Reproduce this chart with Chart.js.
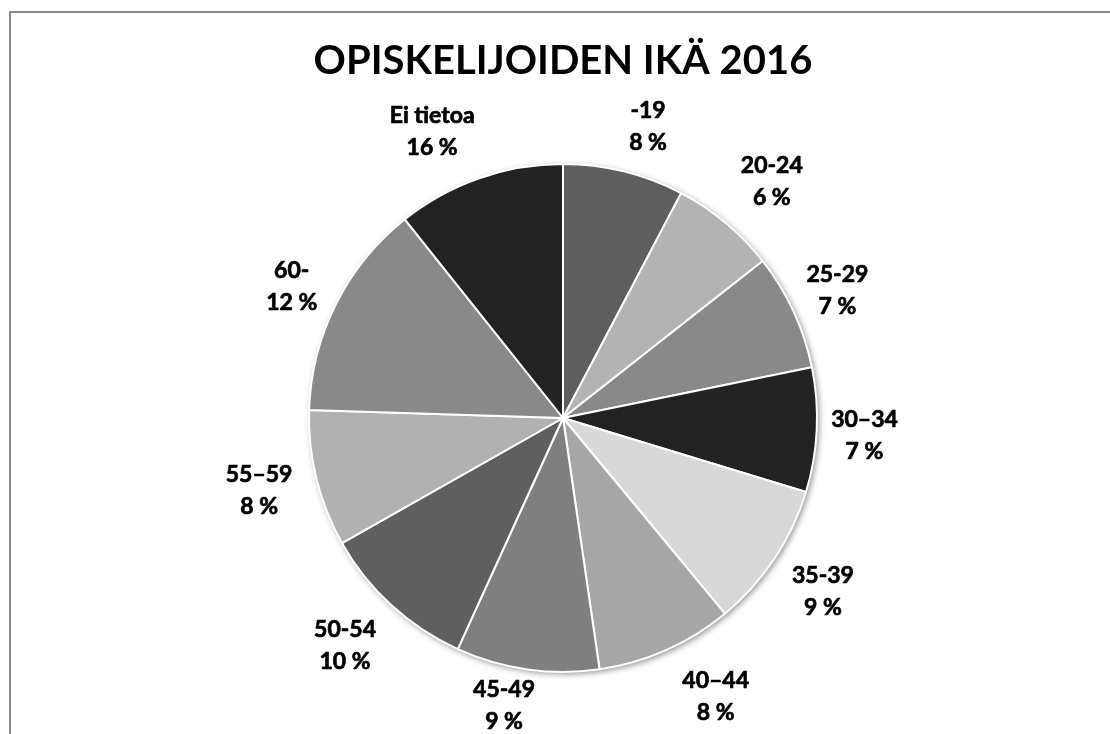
<!DOCTYPE html>
<html>
<head>
<meta charset="utf-8">
<script src="https://cdn.jsdelivr.net/npm/chart.js@4/dist/chart.umd.min.js"></script>
<style>
  html, body { margin: 0; padding: 0; background: #fff; overflow: hidden; }
  #wrap { position: relative; width: 1110px; height: 734px; }
  #frame { position: absolute; left: 9px; top: 11px; width: 1300px; height: 900px; border: 2px solid #898989; box-sizing: border-box; pointer-events: none; }
  canvas { position: absolute; left: 0; top: 0; }
</style>
</head>
<body>
<div id="wrap">
  <canvas id="c" width="1110" height="734"></canvas>
  <div id="frame"></div>
</div>
<script>
// Data
const chartTitle = 'OPISKELIJOIDEN IKÄ 2016';
const categories = ['-19', '20-24', '25-29', '30–34', '35-39', '40–44', '45-49', '50-54', '55–59', '60-', 'Ei tietoa'];
// slice sizes as drawn (share of the full circle, %)
const sliceShares = [7.7, 6.7, 7.4, 7.9, 9.3, 8.7, 9.1, 10.0, 8.7, 13.8, 10.7];
// percentages printed on the data labels
const labelPercents = ['8 %', '6 %', '7 %', '7 %', '9 %', '8 %', '9 %', '10 %', '8 %', '12 %', '16 %'];
const sliceColors = ['#5e5e5e', '#b3b3b3', '#898989', '#222222', '#d8d8d8', '#a6a6a6', '#7f7f7f', '#5f5f5f', '#b1b1b1', '#898989', '#222222'];

const FONT = 'Lato, "Open Sans", "Liberation Sans", sans-serif';
// label placement tweaks: angular nudge (deg) and radial nudge (px) from the slice's mid-angle anchor
const labelNudgeDeg = [2.4, 1.7, 0, 0.7, 0, -4.8, 3.5, 1.3, 0.5, -0.8, -5.3];
const labelNudgeRad = [0, 0, -6, 6, 0, 2, -13, 0, 8, 0, -5];

const shadowPlugin = {
  id: 'pieShadow',
  beforeDatasetsDraw(chart) {
    const arc = chart.getDatasetMeta(0).data[0];
    if (!arc) return;
    const ctx = chart.ctx;
    ctx.save();
    ctx.shadowColor = 'rgba(0,0,0,0.45)';
    ctx.shadowBlur = 6;
    ctx.shadowOffsetX = 2;
    ctx.shadowOffsetY = 2;
    ctx.fillStyle = '#ffffff';
    ctx.beginPath();
    ctx.arc(arc.x, arc.y, arc.outerRadius, 0, Math.PI * 2);
    ctx.fill();
    ctx.restore();
  }
};

const labelPlugin = {
  id: 'outsideLabels',
  afterDatasetsDraw(chart) {
    const ctx = chart.ctx;
    const meta = chart.getDatasetMeta(0);
    ctx.save();
    ctx.font = 'bold 23px ' + FONT;
    ctx.fillStyle = '#000000';
    ctx.strokeStyle = '#000000';
    ctx.lineWidth = 0.7;
    ctx.lineJoin = 'round';
    ctx.textAlign = 'center';
    ctx.textBaseline = 'middle';
    meta.data.forEach((arc, i) => {
      const mid = (arc.startAngle + arc.endAngle) / 2 + labelNudgeDeg[i] * Math.PI / 180;
      const ux = Math.cos(mid), uy = Math.sin(mid);
      const l1 = chart.data.labels[i];
      const l2 = labelPercents[i];
      const hw = Math.max(ctx.measureText(l1).width, ctx.measureText(l2).width) / 2 * 0.87;
      const hh = 32;
      const support = Math.abs(ux) * hw + Math.abs(uy) * hh;
      const d = arc.outerRadius - 12 + 1.75 * support + labelNudgeRad[i];
      const cx = arc.x + ux * d;
      const cy = arc.y + uy * d;
      [[l1, cy - 16], [l2, cy + 16]].forEach(([t, y]) => {
        ctx.strokeText(t, cx, y);
        ctx.fillText(t, cx, y);
      });
    });
    ctx.restore();
  }
};

new Chart(document.getElementById('c'), {
  type: 'pie',
  data: {
    labels: categories,
    datasets: [{
      data: sliceShares,
      backgroundColor: sliceColors,
      borderColor: '#ffffff',
      borderWidth: 2
    }]
  },
  options: {
    responsive: false,
    animation: false,
    layout: { padding: { top: 0, bottom: 61, left: 16, right: 0 } },
    plugins: {
      legend: { display: false },
      tooltip: { enabled: false },
      title: {
        display: true,
        text: chartTitle,
        color: '#000000',
        font: { family: FONT, size: 40, weight: 'bold', lineHeight: 1.2 },
        padding: { top: 37, bottom: 78 }
      }
    }
  },
  plugins: [shadowPlugin, labelPlugin]
});
</script>
</body>
</html>
